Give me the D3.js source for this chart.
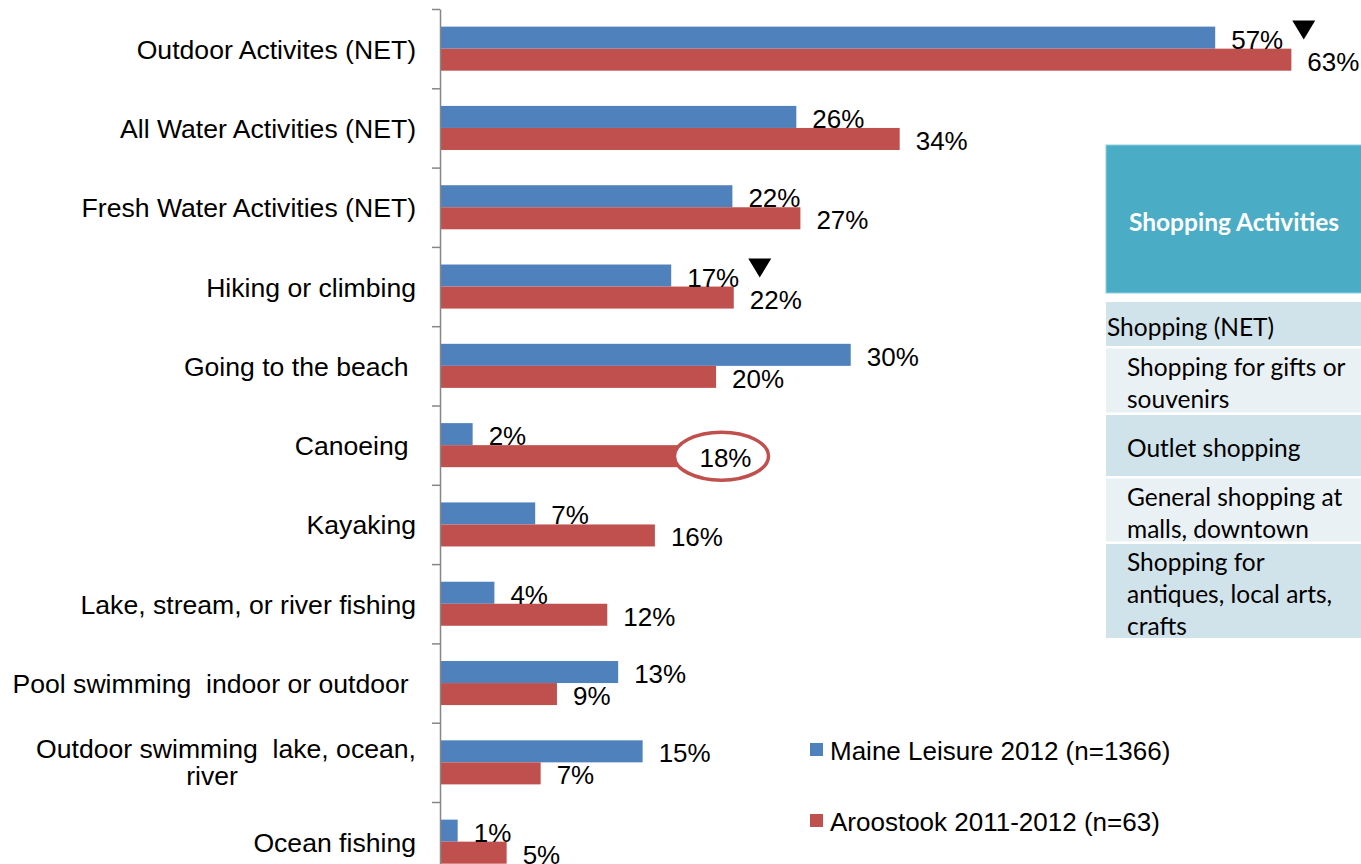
<!DOCTYPE html>
<html>
<head>
<meta charset="utf-8">
<script src="https://cdn.jsdelivr.net/npm/d3@7"></script>
<style>
  body { margin: 0; background: #fff; }
  svg text { font-family: "Liberation Sans", Arial, sans-serif; }
</style>
</head>
<body>
<svg id="chart"></svg>
<script>
// data
const categories = [
  "Outdoor Activites (NET)",
  "All Water Activities (NET)",
  "Fresh Water Activities (NET)",
  "Hiking or climbing",
  "Going to the beach ",
  "Canoeing ",
  "Kayaking",
  "Lake, stream, or river fishing",
  "Pool swimming  indoor or outdoor ",
  "Outdoor swimming  lake, ocean, river",
  "Ocean fishing"
];
const maine     = [57.0, 26.2, 21.5, 17.0, 30.2, 2.4, 7.0, 4.0, 13.1, 14.9, 1.3];
const aroostook = [62.6, 33.8, 26.5, 21.6, 20.3, 17.9, 15.8, 12.3, 8.6, 7.4, 4.9];
const seriesNames = ["Maine Leisure 2012 (n=1366)", "Aroostook 2011-2012 (n=63)"];
const flagged = ["Outdoor Activites (NET)", "Hiking or climbing"];
const circled = "Canoeing ";
const shoppingTitle = "Shopping Activities";
const shoppingRows = [
  ["Shopping (NET)"],
  ["Shopping for gifts or", "souvenirs"],
  ["Outlet shopping"],
  ["General shopping at", "malls, downtown"],
  ["Shopping for", "antiques, local arts,", "crafts"]
];

const colors = ["#4f81bd", "#c0504d"];
const W = 1361, H = 864;

const svg = d3.select("#chart").attr("width", W).attr("height", H);

const x = d3.scaleLinear().domain([0, 70]).range([440, 440 + 70 * 13.6]);
const y = d3.scaleBand().domain(categories).range([9, 9 + 79.3 * categories.length]).padding(0);
const ySub = d3.scaleBand().domain([0, 1]).range([0, y.bandwidth()]).paddingInner(0).paddingOuter(0.8);

const rows = categories.map((c, i) => ({cat: c, vals: [maine[i], aroostook[i]]}));

// bars
const groups = svg.append("g").selectAll("g")
  .data(rows).enter().append("g")
  .attr("transform", d => `translate(0,${y(d.cat)})`);

groups.selectAll("rect")
  .data(d => d.vals.map((v, k) => ({v, k})))
  .enter().append("rect")
  .attr("x", x(0))
  .attr("y", d => ySub(d.k))
  .attr("width", d => x(d.v) - x(0))
  .attr("height", ySub.bandwidth())
  .attr("fill", d => colors[d.k]);

// value labels
groups.selectAll("text.val")
  .data(d => d.vals.map((v, k) => ({v, k, cat: d.cat})))
  .enter().append("text")
  .attr("class", d => "val s" + d.k)
  .attr("x", d => x(d.v) + 16)
  .attr("y", d => ySub(d.k) + ySub.bandwidth() / 2 + 2)
  .attr("dominant-baseline", "central")
  .style("font-size", "26px")
  .attr("fill", "#000")
  .text(d => Math.round(d.v) + "%");

// circle around the canoeing red label
{
  const g = groups.filter(d => d.cat === circled);
  const bb = g.select("text.s1").node().getBBox();
  const cy = ySub(1) + ySub.bandwidth() / 2;
  g.insert("ellipse", "text")
    .attr("cx", bb.x + bb.width / 2 - 4)
    .attr("cy", cy)
    .attr("rx", 47)
    .attr("ry", 24)
    .attr("fill", "#fff")
    .attr("stroke", colors[1])
    .attr("stroke-width", 3.5);
}

// significance triangles after blue label
groups.filter(d => flagged.includes(d.cat)).each(function() {
  const g = d3.select(this);
  const bb = g.select("text.s0").node().getBBox();
  const x0 = bb.x + bb.width + 9;
  const top = ySub(0) - 6;
  g.append("path")
    .attr("d", `M${x0},${top}L${x0 + 23},${top}L${x0 + 11.5},${top + 19}Z`)
    .attr("fill", "#000");
});

// axis
const yIdx = d3.scaleLinear().domain([0, categories.length]).range(y.range());
const axis = svg.append("g")
  .attr("transform", `translate(${x(0)},0)`)
  .call(d3.axisLeft(yIdx).tickValues(d3.range(0, categories.length + 1)).tickFormat("").tickSize(8).tickSizeOuter(0));
axis.selectAll("path, line").attr("stroke", "#868686").attr("stroke-width", 1.5);

// category labels
const catG = svg.append("g");
const maxW = 405;
categories.forEach(c => {
  const t = catG.append("text")
    .attr("x", 416)
    .attr("text-anchor", "end")
    .style("font-size", "26.6px")
    .style("white-space", "pre")
    .attr("fill", "#000");
  const cy = y(c) + y.bandwidth() / 2;
  t.text(c.trim());
  if (t.node().getComputedTextLength() > maxW) {
    // wrap into lines
    const words = c.trim().split(" ");
    const lines = [];
    let cur = "";
    words.forEach(w => {
      const test = cur === "" ? w : cur + " " + w;
      t.text(test);
      if (t.node().getComputedTextLength() > maxW && cur !== "") {
        lines.push(cur);
        cur = w;
      } else cur = test;
    });
    lines.push(cur);
    t.text("");
    t.attr("text-anchor", "middle");
    lines.forEach((ln, i) => {
      t.append("tspan")
        .attr("x", i === 0 ? 226 : 212)
        .attr("y", cy + (i - (lines.length - 1) / 2) * 27)
        .attr("dominant-baseline", "central")
        .text(ln);
    });
  } else {
    t.text(c).attr("y", cy + 1).attr("dominant-baseline", "central");
  }
});

// legend
const legend = svg.append("g").attr("transform", "translate(810,743)");
seriesNames.forEach((n, i) => {
  const lg = legend.append("g").attr("transform", `translate(0,${i * 71})`);
  lg.append("rect").attr("width", 13).attr("height", 13).attr("fill", colors[i]);
  lg.append("text").attr("x", 20).attr("y", 7.5)
    .attr("dominant-baseline", "central")
    .style("font-size", "26px")
    .text(n);
});

// shopping side panel
const panel = svg.append("g");
panel.append("rect")
  .attr("x", 1106).attr("y", 145).attr("width", 260).attr("height", 148)
  .attr("fill", "#4bacc6").attr("stroke", "#8ccfe0").attr("stroke-width", 1);
panel.append("text")
  .attr("x", 1234).attr("y", 221)
  .attr("text-anchor", "middle").attr("dominant-baseline", "central")
  .style("font-family", "Lato, 'Open Sans', sans-serif")
  .style("font-weight", "bold").style("font-size", "24.5px")
  .attr("fill", "#fff")
  .text(shoppingTitle);

const rowHeights = [44, 64, 61, 63, 94];
let ry = 302;
shoppingRows.forEach((lines, i) => {
  const h = rowHeights[i];
  panel.append("rect")
    .attr("x", 1106).attr("y", ry).attr("width", 260).attr("height", h)
    .attr("fill", i % 2 === 0 ? "#d0e3ea" : "#e9f1f4");
  const tx = i === 0 ? 1107 : 1127;
  const mid = ry + h / 2 + 2;
  const t = panel.append("text")
    .style("font-family", "Lato, 'Open Sans', sans-serif")
    .style("font-size", "24.5px")
    .attr("fill", "#000");
  lines.forEach((ln, j) => {
    t.append("tspan")
      .attr("x", tx)
      .attr("y", mid + (j - (lines.length - 1) / 2) * 32)
      .attr("dominant-baseline", "central")
      .text(ln);
  });
  ry += h + 2.5;
});
</script>
</body>
</html>
